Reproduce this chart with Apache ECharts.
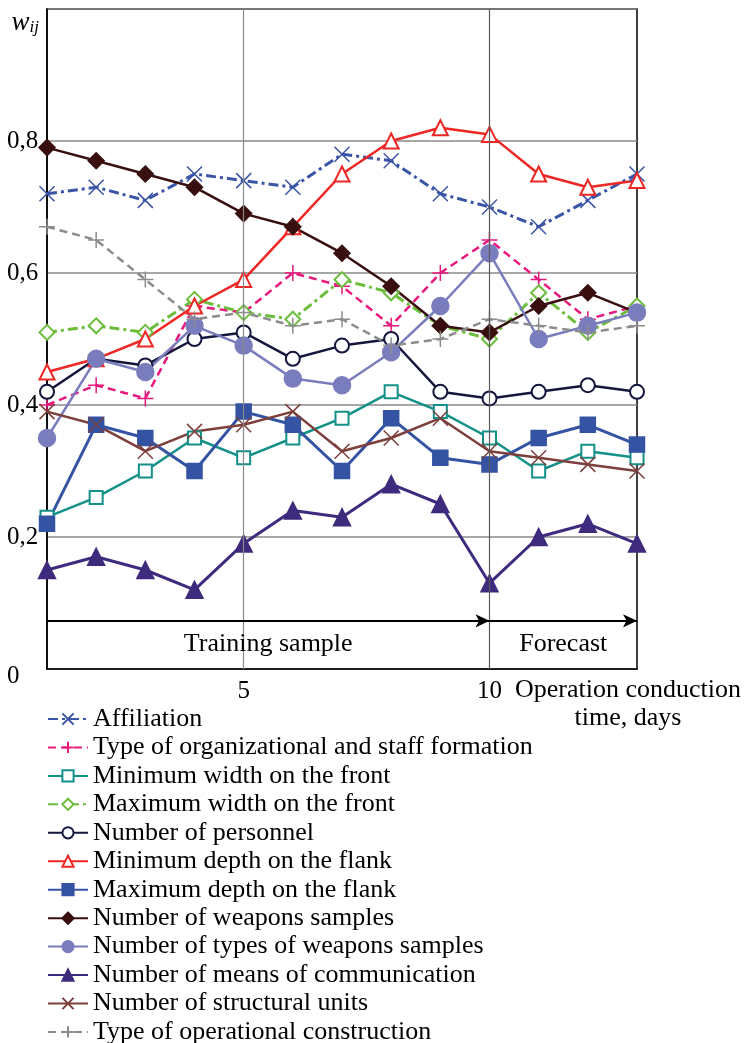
<!DOCTYPE html>
<html>
<head>
<meta charset="utf-8">
<script src="https://cdn.jsdelivr.net/npm/echarts@6/dist/echarts.min.js"></script>
<style>
  html, body { margin: 0; padding: 0; background: #fff; }
  #chart { width: 744px; height: 1043px; }
</style>
</head>
<body>
<div id="chart"></div>
<script>
// days of the operation
const days = [1, 2, 3, 4, 5, 6, 7, 8, 9, 10, 11, 12, 13]

// weight values w_ij per indicator
const affiliation      = [0.72, 0.73, 0.71, 0.75, 0.74, 0.73, 0.78, 0.77, 0.72, 0.70, 0.67, 0.71, 0.75]
const orgStaffType     = [0.40, 0.43, 0.41, 0.55, 0.54, 0.60, 0.58, 0.52, 0.60, 0.65, 0.59, 0.53, 0.55]
const minWidthFront    = [0.23, 0.26, 0.30, 0.35, 0.32, 0.35, 0.38, 0.42, 0.39, 0.35, 0.30, 0.33, 0.32]
const maxWidthFront    = [0.51, 0.52, 0.51, 0.56, 0.54, 0.53, 0.59, 0.57, 0.52, 0.50, 0.57, 0.51, 0.55]
const personnel        = [0.42, 0.47, 0.46, 0.50, 0.51, 0.47, 0.49, 0.50, 0.42, 0.41, 0.42, 0.43, 0.42]
const minDepthFlank    = [0.45, 0.47, 0.50, 0.55, 0.59, 0.67, 0.75, 0.80, 0.82, 0.81, 0.75, 0.73, 0.74]
const maxDepthFlank    = [0.22, 0.37, 0.35, 0.30, 0.39, 0.37, 0.30, 0.38, 0.32, 0.31, 0.35, 0.37, 0.34]
const weaponsSamples   = [0.79, 0.77, 0.75, 0.73, 0.69, 0.67, 0.63, 0.58, 0.52, 0.51, 0.55, 0.57, 0.54]
const weaponTypes      = [0.35, 0.47, 0.45, 0.52, 0.49, 0.44, 0.43, 0.48, 0.55, 0.63, 0.50, 0.52, 0.54]
const commMeans        = [0.15, 0.17, 0.15, 0.12, 0.19, 0.24, 0.23, 0.28, 0.25, 0.13, 0.20, 0.22, 0.19]
const structuralUnits  = [0.39, 0.37, 0.33, 0.36, 0.37, 0.39, 0.33, 0.35, 0.38, 0.33, 0.32, 0.31, 0.30]
const opConstruction   = [0.67, 0.65, 0.59, 0.53, 0.54, 0.52, 0.53, 0.49, 0.50, 0.53, 0.52, 0.51, 0.52]

// axis marks
const xLabelValues = [5, 10]
const periodSplit = 10
const periodLabels = ['Training sample', 'Forecast']
const arrowLevel = 0.073

const FONT = '"Liberation Serif", "Times New Roman", serif'
const xPath = 'path://M0,0L10,10M10,0L0,10'
const plusPath = 'path://M5,0L5,10M0,5L10,5'

function pairs (values) {
    return days.map((d, i) => [d, values[i]])
}

function makeSeries (name, values, color, symbol, size, lineType, opts) {
    opts = opts || {}
    return {
        name: name,
        type: 'line',
        data: pairs(values),
        symbol: symbol,
        symbolSize: size,
        clip: false,
        lineStyle: { color: color, width: opts.width || 2.5, type: lineType },
        itemStyle: {
            color: opts.fill || color,
            borderColor: color,
            borderWidth: opts.border || 1.5
        },
        emphasis: { disabled: true },
        z: opts.z || 2
    }
}

const series = [
    makeSeries('Affiliation', affiliation, '#3a54a6', xPath, 15, [10, 4, 3, 4], { width: 3 }),
    makeSeries('Type of organizational and staff formation', orgStaffType, '#e8197d', plusPath, 16, [8, 5], { width: 2.5 }),
    makeSeries('Minimum width on the front', minWidthFront, '#139088', 'emptyRect', 13, 'solid', { width: 2.5 }),
    makeSeries('Maximum width on the front', maxWidthFront, '#6cbd3c', 'emptyDiamond', 15, [10, 4, 3, 4], { width: 3 }),
    makeSeries('Number of personnel', personnel, '#15163e', 'emptyCircle', 14, 'solid', { width: 2.5 }),
    makeSeries('Minimum depth on the flank', minDepthFlank, '#ee2624', 'emptyTriangle', 15, 'solid', { width: 2.5 }),
    makeSeries('Maximum depth on the flank', maxDepthFlank, '#3453a2', 'rect', 15, 'solid', { width: 3, border: 0 }),
    makeSeries('Number of weapons samples', weaponsSamples, '#380e0f', 'diamond', 16, 'solid', { width: 2.5, border: 0 }),
    makeSeries('Number of types of weapons samples', weaponTypes, '#7a7dbd', 'circle', 17, 'solid', { width: 2.5, border: 0 }),
    makeSeries('Number of means of communication', commMeans, '#3e2b7d', 'triangle', 17, 'solid', { width: 3, border: 0 }),
    makeSeries('Number of structural units', structuralUnits, '#7c3f3b', xPath, 15, 'solid', { width: 2.5 }),
    makeSeries('Type of operational construction', opConstruction, '#8c8c8c', plusPath, 16, [8, 5], { width: 2.5 })
]

// period arrows, vertical grid lines and period labels
series.push({
    name: 'periods',
    type: 'line',
    data: [],
    silent: true,
    markLine: {
        silent: true,
        animation: false,
        symbol: 'none',
        data: [
            [{ coord: [5, 0], lineStyle: { color: '#8a8a8a', width: 1.2, type: 'solid' } }, { coord: [5, 1] }],
            [{ coord: [periodSplit, 0], lineStyle: { color: '#5a5a5a', width: 1.2, type: 'solid' } }, { coord: [periodSplit, 1] }],
            [{
                coord: [days[0], arrowLevel],
                symbol: 'none',
                lineStyle: { color: '#000', width: 2, type: 'solid' },
                label: { show: true, position: 'insideMiddleBottom', formatter: periodLabels[0], distance: 10 }
            }, { coord: [periodSplit, arrowLevel], symbol: 'arrow' }],
            [{
                coord: [periodSplit, arrowLevel],
                symbol: 'none',
                lineStyle: { color: '#000', width: 2, type: 'solid' },
                label: { show: true, position: 'insideMiddleBottom', formatter: periodLabels[1], distance: 10 }
            }, { coord: [days[days.length - 1], arrowLevel], symbol: 'arrow' }]
        ],
        symbolSize: [10, 14],
        label: {
            color: '#000',
            fontFamily: FONT,
            fontSize: 26
        }
    },
    z: 1
})

const legendNames = series.slice(0, 12).map(s => s.name)
const legendPitch = 28.45
const legendTop = 706

// split in blocks so that no block wraps into a second column
function makeLegend (from, to) {
    return {
        orient: 'vertical',
        left: 47,
        top: legendTop + from * legendPitch,
        padding: 0,
        itemWidth: 40,
        itemHeight: 14,
        itemGap: legendPitch - 26,
        data: legendNames.slice(from, to),
        textStyle: {
            color: '#000',
            fontFamily: FONT,
            fontSize: 26,
            lineHeight: 26,
            padding: [0, 0, 0, 0]
        },
        selectedMode: false
    }
}

const chart = echarts.init(document.getElementById('chart'))

chart.setOption({
    animation: false,
    backgroundColor: '#fff',
    grid: {
        left: 47,
        top: 9,
        width: 590,
        height: 660,
        show: true,
        borderColor: '#000',
        borderWidth: 1.5,
        backgroundColor: 'transparent'
    },
    legend: [
        makeLegend(0, 4),
        makeLegend(4, 8),
        makeLegend(8, 11),
        makeLegend(11, 12)
    ],
    xAxis: {
        type: 'value',
        min: days[0],
        max: days[days.length - 1],
        name: 'Operation conduction\ntime, days',
        nameLocation: 'end',
        nameGap: -9,
        nameTextStyle: {
            color: '#000',
            fontFamily: FONT,
            fontSize: 26,
            lineHeight: 28,
            align: 'center',
            verticalAlign: 'top',
            padding: [7, 0, 0, 0]
        },
        axisLine: { show: true, lineStyle: { color: '#000', width: 1.5 } },
        axisTick: { show: false },
        splitLine: { show: false },
        axisLabel: {
            customValues: xLabelValues,
            color: '#000',
            fontFamily: FONT,
            fontSize: 25,
            margin: 10
        }
    },
    yAxis: {
        type: 'value',
        min: 0,
        max: 1,
        interval: 0.2,
        name: '{w|w}{s|ij}',
        nameLocation: 'end',
        nameGap: -14,
        nameTextStyle: {
            align: 'right',
            verticalAlign: 'middle',
            padding: [0, 8, 0, 0],
            rich: {
                w: { fontFamily: FONT, fontStyle: 'italic', fontSize: 27, color: '#000' },
                s: { fontFamily: FONT, fontStyle: 'italic', fontSize: 17, color: '#000', verticalAlign: 'bottom', padding: [10, 0, 0, 0] }
            }
        },
        axisLine: { show: true, lineStyle: { color: '#000', width: 1.5 } },
        axisTick: { show: false },
        splitLine: { show: true, lineStyle: { color: '#8a8a8a', width: 1.5 } },
        axisLabel: {
            align: 'left',
            margin: 40,
            color: '#000',
            fontFamily: FONT,
            fontSize: 25,
            formatter: function (v) {
                if (v >= 1) return ''
                if (v === 0) return '{z|0}'
                return v.toFixed(1).replace('.', ',')
            },
            rich: {
                z: { fontFamily: FONT, fontSize: 25, color: '#000', padding: [14, 0, 0, 0] }
            }
        }
    },
    series: series
})
</script>
</body>
</html>
